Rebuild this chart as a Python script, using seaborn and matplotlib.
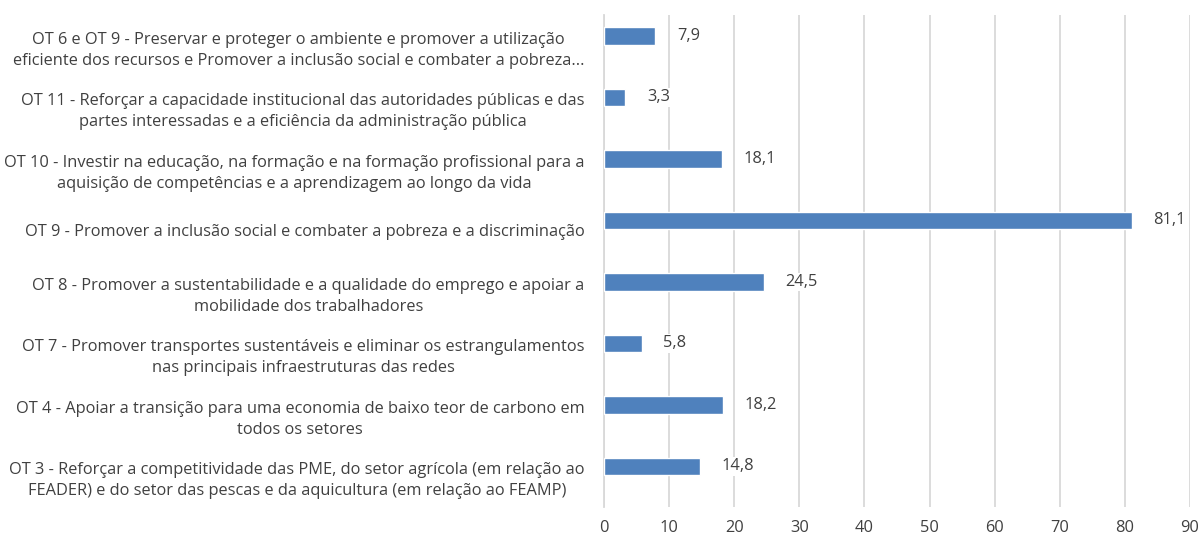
import matplotlib
matplotlib.use("Agg")
import matplotlib.pyplot as plt
import seaborn as sns
import pandas as pd
import numpy as np

# categories, top to bottom as shown
categories = [
    "OT 6 e OT 9 - Preservar e proteger o ambiente e promover a utilização\neficiente dos recursos e Promover a inclusão social e combater a pobreza...",
    "OT 11 - Reforçar a capacidade institucional das autoridades públicas e das\npartes interessadas e a eficiência da administração pública",
    "OT 10 - Investir na educação, na formação e na formação profissional para a\naquisição de competências e a aprendizagem ao longo da vida",
    "OT 9 - Promover a inclusão social e combater a pobreza e a discriminação",
    "OT 8 - Promover a sustentabilidade e a qualidade do emprego e apoiar a\nmobilidade dos trabalhadores",
    "OT 7 - Promover transportes sustentáveis e eliminar os estrangulamentos\nnas principais infraestruturas das redes",
    "OT 4 - Apoiar a transição para uma economia de baixo teor de carbono em\ntodos os setores",
    "OT 3 - Reforçar a competitividade das PME, do setor agrícola (em relação ao\nFEADER) e do setor das pescas e da aquicultura (em relação ao FEAMP)",
]
values = [7.9, 3.3, 18.1, 81.1, 24.5, 5.8, 18.2, 14.8]
x_ticks = list(range(0, 100, 10))

df = pd.DataFrame({"cat": categories, "val": values})

sns.set_theme(style="white")
plt.rcParams["font.family"] = ["Open Sans", "DejaVu Sans"]
text_color = "#404040"
fs = 11.8
shift = -0.16  # bars sit above the band centre, like the original Excel chart

fig = plt.figure(figsize=(12.03, 5.36), dpi=100)
ax = fig.add_axes([604 / 1203, 29 / 536, 586 / 1203, 492 / 536])

sns.barplot(data=df, x="val", y="cat", orient="h", color="#4F81BD",
            width=0.28, saturation=1, ax=ax, zorder=3)
for p in ax.patches:
    p.set_y(p.get_y() + shift)

ax.set_xlim(0, 90)
ax.set_ylim(len(categories) - 0.5, -0.5)
ax.set_xticks(x_ticks)
ax.set_xticklabels([str(t) for t in x_ticks], fontsize=fs, color=text_color)
ax.xaxis.grid(True, color="#D9D9D9", linewidth=1.3, zorder=0)
ax.set_xlabel("")
ax.set_ylabel("")

for lbl in ax.get_yticklabels():
    lbl.set_multialignment("center")
    lbl.set_fontsize(fs)
    lbl.set_color(text_color)
    lbl.set_linespacing(1.4)
ax.tick_params(axis="y", which="major", length=0, pad=14)
ax.tick_params(axis="x", length=0, pad=9)
ax.set_yticks(np.arange(-0.5, len(categories)), minor=True)
ax.tick_params(axis="y", which="minor", length=5, color="#D9D9D9", width=1.3)

for s in ["top", "right", "bottom"]:
    ax.spines[s].set_visible(False)
ax.spines["left"].set_color("#D9D9D9")
ax.spines["left"].set_linewidth(1.3)

for i, v in enumerate(values):
    ax.text(v + 3.3, i + shift, f"{v:.1f}".replace(".", ","), va="center", ha="left",
            fontsize=fs, color=text_color, zorder=4,
            bbox=dict(facecolor="white", edgecolor="none", pad=1))

fig.savefig("out.png", dpi=100)
